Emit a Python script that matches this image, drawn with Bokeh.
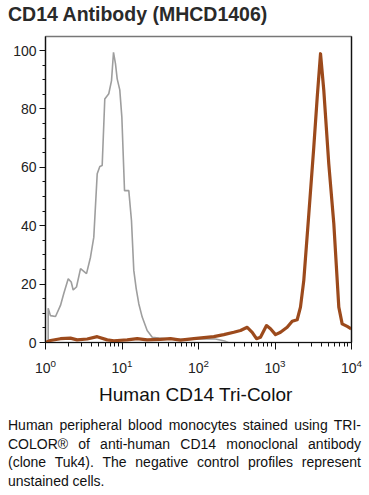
from bokeh.plotting import figure
from bokeh.models import Div, Range1d, SingleIntervalTicker, LinearAxis, FixedTicker
from bokeh.layouts import column
from bokeh.embed import file_html
from bokeh.resources import INLINE

title_text = "CD14 Antibody (MHCD1406)"
x_label = "Human CD14  Tri-Color"
caption = ("Human peripheral blood monocytes stained using TRI-COLOR® of anti-human "
           "CD14 monoclonal antibody (clone Tuk4). The negative control profiles "
           "represent unstained cells.")

# Unstained (negative control) histogram, grey
unstained_x = [1.084, 1.084, 1.161, 1.352, 1.570, 1.734, 1.982, 2.168, 2.301, 2.541,
               2.871, 3.436, 3.873, 4.276, 4.742, 5.129, 5.508, 5.957, 6.714, 7.295,
               7.745, 8.222, 8.650, 9.354, 9.954, 10.79, 12.27, 13.30, 14.26, 15.35,
               16.60, 18.37, 21.33, 24.83, 30.27, 43.05, 67.6, 106.2, 166.7, 218.8, 245.5]
unstained_y = [0, 11.7, 9.2, 8.9, 12.7, 16.8, 21.8, 20.7, 18.0, 19.0,
               25.3, 23.6, 29.2, 36.0, 57.8, 60.3, 60.6, 83.4, 85.2, 89.7,
               99.4, 95.4, 90.3, 86.5, 77.2, 52.0, 52.0, 41.8, 24.7, 18.4,
               13.2, 8.7, 4.1, 1.8, 1.5, 1.2, 1.0, 1.3, 1.2, 0.5, 0]

# CD14 Tri-Color stained histogram, brown
stained_x = [1.0, 1.161, 1.57, 2.12, 2.59, 3.51, 4.74, 6.41, 7.82, 11.7,
             15.8, 21.3, 31.8, 43.1, 58.2, 86.9, 158.5, 214.3, 289.1, 354.0,
             433.5, 503.5, 572.8, 645.7, 774.5, 873.0, 1016, 1180, 1442, 1679,
             1950, 2153, 2377, 2767, 3214, 3565, 3936, 4345, 5047, 5875,
             6823, 7551, 8790, 9908]
stained_y = [0, 0.7, 1.3, 1.5, 0.9, 1.2, 2.0, 0.9, 0.6, 0.9,
             1.3, 0.9, 1.1, 1.3, 0.8, 1.3, 2.0, 2.7, 3.5, 4.1,
             5.2, 3.5, 1.3, 1.8, 5.8, 4.7, 2.7, 3.5, 5.2, 7.3,
             7.8, 12.1, 21.2, 44.0, 66.9, 84.0, 98.9, 86.3, 61.2, 40.6,
             12.1, 6.4, 5.5, 4.7]

FONT = "Liberation Sans"

title_div = Div(
    text=('<div style="font-family:\'Liberation Sans\',Arial,sans-serif;font-weight:bold;'
          'font-size:19.5px;line-height:22px;color:#2a2a2a;white-space:nowrap;">'
          + title_text + '</div>'),
    width=353, height=22, margin=(3, 0, 0, 8))

p = figure(width=361, height=391, x_axis_type="log",
           x_range=Range1d(1, 1e4), y_range=Range1d(0, 104.8),
           output_backend="svg", toolbar_location=None,
           min_border_left=37, min_border_right=18, min_border_top=11, min_border_bottom=74,
           margin=(0, 0, 0, 8))

p.xgrid.visible = False
p.ygrid.visible = False
p.outline_line_color = "#777777"
p.outline_line_width = 1.5

p.line(unstained_x, unstained_y, line_color="#9e9e9e", line_width=1.6)
p.line(stained_x, stained_y, line_color="#9c4a1c", line_width=3.2, line_join="round")

for ax in (p.xaxis[0], p.yaxis[0]):
    ax.axis_line_color = "#111111"
    ax.axis_line_width = 1.2
    ax.major_tick_line_color = "#111111"
    ax.minor_tick_line_color = "#111111"
    ax.major_tick_in = 0
    ax.minor_tick_in = 0
    ax.major_label_text_font = FONT
    ax.major_label_text_font_size = "14px"
    ax.major_label_text_color = "#222222"

p.yaxis[0].ticker = SingleIntervalTicker(interval=20, num_minor_ticks=4)
p.yaxis[0].major_tick_out = 6
p.yaxis[0].minor_tick_out = 3
p.yaxis[0].major_label_standoff = 3

p.xaxis[0].major_tick_out = 7
p.xaxis[0].minor_tick_out = 4
p.xaxis[0].major_label_standoff = 9
p.xaxis[0].axis_label = x_label
p.xaxis[0].axis_label_text_font = FONT
p.xaxis[0].axis_label_text_font_size = "19px"
p.xaxis[0].axis_label_text_font_style = "normal"
p.xaxis[0].axis_label_text_color = "#111111"
p.xaxis[0].axis_label_standoff = 8

right = LinearAxis(ticker=FixedTicker(ticks=[]), axis_line_color="#111111",
                   axis_line_width=1.2, major_label_text_font_size="0px",
                   major_tick_line_color=None, minor_tick_line_color=None)
p.add_layout(right, "right")

cap_div = Div(
    text=('<div style="font-family:\'Liberation Sans\',Arial,sans-serif;font-size:14px;'
          'line-height:18.7px;text-align:justify;color:#111111;width:353px;">'
          + caption + '</div>'),
    width=353, margin=(0, 0, 0, 8))

layout = column(title_div, p, cap_div)
open("out.html", "w").write(file_html(layout, INLINE))
